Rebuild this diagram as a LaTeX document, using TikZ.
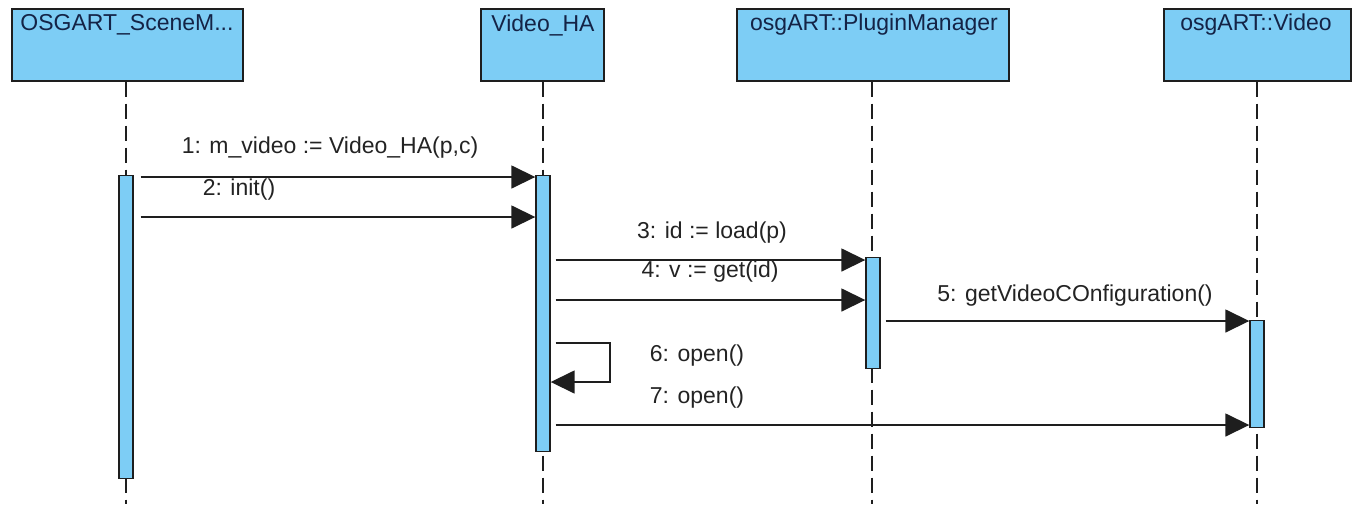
\documentclass[tikz,border=0pt]{standalone}
\usepackage{fontspec}
\setmainfont{Liberation Sans}
\usetikzlibrary{arrows.meta,calc}
\definecolor{boxblue}{RGB}{125,205,245}
\definecolor{edgec}{RGB}{30,30,30}
\definecolor{headtext}{RGB}{20,35,70}
\definecolor{labtext}{RGB}{35,35,35}
\tikzset{
  header/.style={draw=edgec, fill=boxblue, line width=1.6pt, minimum height=72pt, inner sep=0pt, anchor=north west},
  headlabel/.style={text=headtext, font=\fontsize{23}{27}\selectfont, anchor=center, inner sep=0pt},
  lifeline/.style={edgec, line width=2pt, dash pattern=on 15pt off 7pt},
  actbar/.style={draw=edgec, fill=boxblue, line width=1.4pt, minimum width=14pt, inner sep=0pt, anchor=north},
  msg/.style={edgec, line width=1.6pt, -{Triangle[length=24pt,width=23pt]}},
  msglabel/.style={text=labtext, font=\fontsize{23}{27}\selectfont, inner sep=0pt, anchor=center}
}
\begin{document}
\begin{tikzpicture}[x=1pt,y=-1pt]
\useasboundingbox (0,0) rectangle (1361,504);
% headers
\node[header, minimum width=231pt] (h1) at (11,8) {};
\node[header, minimum width=123pt] (h2) at (480,8) {};
\node[header, minimum width=272pt] (h3) at (736,8) {};
\node[header, minimum width=187pt] (h4) at (1163,8) {};
\node[headlabel] (t1) at (127,25) {OSGART\_SceneM...};
\node[headlabel] (t2) at (543,25) {Video\_HA};
\node[headlabel] (t3) at (874,25) {osgART::PluginManager};
\node[headlabel] (t4) at (1256,25) {osgART::Video};
% lifelines
\coordinate (e1) at (126,504);
\coordinate (e2) at (543,504);
\coordinate (e3) at (872,504);
\coordinate (e4) at (1257,504);
\draw[lifeline] (h1.south -| e1) -- (e1);
\draw[lifeline] (h2.south -| e2) -- (e2);
\draw[lifeline] (h3.south -| e3) -- (e3);
\draw[lifeline] (h4.south -| e4) -- (e4);
% activation bars
\node[actbar, minimum height=303pt] (a1) at (126,175) {};
\node[actbar, minimum height=276pt] (a2) at (543,175) {};
\node[actbar, minimum height=111pt] (a3) at (873,257) {};
\node[actbar, minimum height=107pt] (a4) at (1257,320) {};
% messages
\draw[msg, shorten <=7pt] (a1.east |- 0,177) -- (a2.west |- 0,177);
\node[msglabel] (l1) at (330,148) {1: m\_video := Video\_HA(p,c)};
\draw[msg, shorten <=7pt] (a1.east |- 0,217) -- (a2.west |- 0,217);
\node[msglabel] (l2) at (239,190) {2: init()};
\draw[msg, shorten <=5pt] (a2.east |- 0,260) -- (a3.west |- 0,260);
\node[msglabel] (l3) at (712,233) {3: id := load(p)};
\draw[msg, shorten <=5pt] (a2.east |- 0,300) -- (a3.west |- 0,300);
\node[msglabel] (l4) at (710,272) {4: v := get(id)};
\draw[msg, shorten <=5pt] (a3.east |- 0,321) -- (a4.west |- 0,321);
\node[msglabel] (l5) at (1075,296) {5: getVideoCOnfiguration()};
\draw[msg, shorten <=5pt] (a2.east |- 0,343) -- (610,343) -- (610,382) -- (a2.east |- 0,382);
\node[msglabel] (l6) at (697,356) {6: open()};
\draw[msg, shorten <=5pt] (a2.east |- 0,425) -- (a4.west |- 0,425);
\node[msglabel] (l7) at (697,398) {7: open()};
\end{tikzpicture}
\end{document}
